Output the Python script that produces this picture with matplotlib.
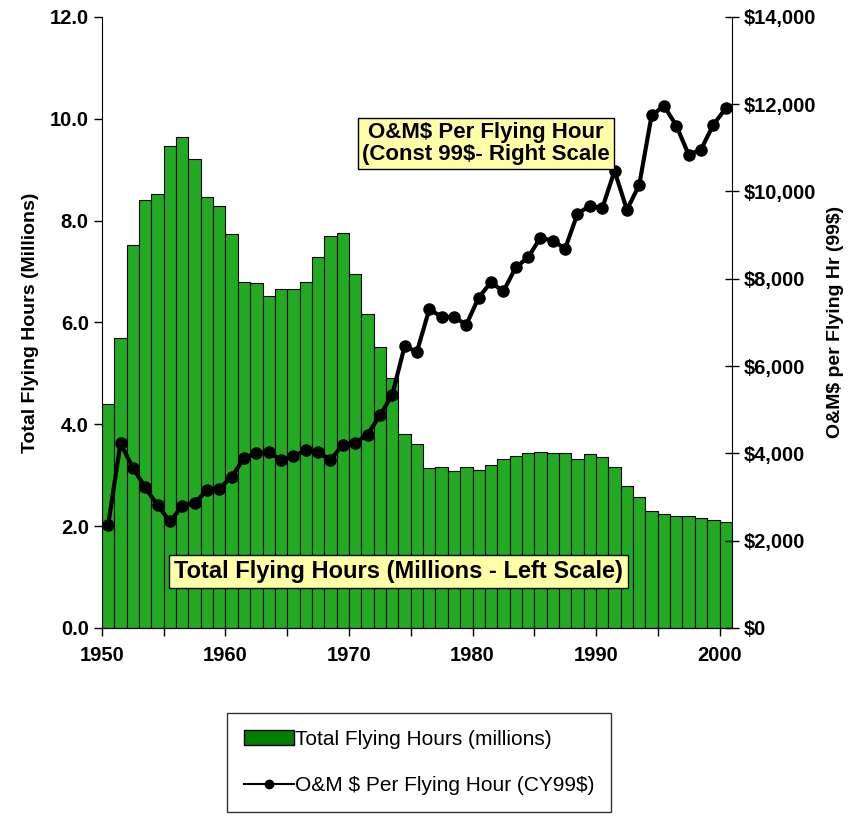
import numpy as np
import matplotlib
matplotlib.use("Agg")
import matplotlib.pyplot as plt
from matplotlib.patches import Patch
from matplotlib.lines import Line2D

plt.rcParams['font.family'] = ['Liberation Sans', 'DejaVu Sans']
plt.rcParams['text.parse_math'] = False

# data
years = list(range(1950, 2001))
# total flying hours, millions (left scale)
hours = [4.40, 5.70, 7.52, 8.40, 8.52, 9.47, 9.64, 9.21, 8.46, 8.28,
         7.73, 6.80, 6.77, 6.51, 6.65, 6.65, 6.80, 7.29, 7.70, 7.76,
         6.95, 6.17, 5.51, 4.91, 3.80, 3.62, 3.15, 3.17, 3.08, 3.17,
         3.10, 3.20, 3.32, 3.38, 3.44, 3.46, 3.43, 3.43, 3.32, 3.41,
         3.36, 3.17, 2.79, 2.58, 2.30, 2.24, 2.19, 2.20, 2.16, 2.12,
         2.09]
# O&M $ per flying hour, CY99$ (right scale)
om_cost = [2360, 4230, 3670, 3220, 2810, 2440, 2790, 2860, 3160, 3190,
           3460, 3890, 4010, 4030, 3850, 3930, 4070, 4030, 3850, 4200,
           4240, 4430, 4870, 5340, 6450, 6330, 7300, 7130, 7120, 6950,
           7570, 7920, 7710, 8260, 8490, 8940, 8870, 8690, 9490, 9670,
           9610, 10470, 9580, 10150, 11740, 11960, 11510, 10840, 10960, 11530,
           11900]

left_ticks = [0, 2, 4, 6, 8, 10, 12]
right_ticks = [0, 2000, 4000, 6000, 8000, 10000, 12000, 14000]

bar_color = '#22AA22'

fig = plt.figure(figsize=(8.57, 8.16), dpi=100)
ax = fig.add_axes([0.119, 0.2304, 0.735, 0.749])

x = np.array(years) + 0.5
ax.bar(x, hours, width=1.0, color=bar_color, edgecolor='black', linewidth=0.8)
ax.set_xlim(1950, 2001)
ax.set_ylim(0, 12)
ax.set_yticks(left_ticks)
ax.set_yticklabels([f"{v:.1f}" for v in left_ticks])
ax.set_xticks(range(1950, 2001, 5))
ax.set_xticklabels([str(y) if y % 10 == 0 else '' for y in range(1950, 2001, 5)])
ax.spines['top'].set_visible(False)
ax.spines['right'].set_visible(False)
ax.tick_params(axis='both', direction='out', length=6, width=1, labelsize=14.5)
ax.tick_params(axis='x', pad=7)
for lab in ax.get_xticklabels() + ax.get_yticklabels():
    lab.set_fontweight('bold')
ax.set_ylabel('Total Flying Hours (Millions)', fontsize=14, fontweight='bold', labelpad=8)

ax2 = ax.twinx()
ax2.plot(x, om_cost, color='black', lw=3, marker='o', markersize=8)
ax2.set_ylim(0, 14000)
ax2.set_yticks(right_ticks)
ax2.set_yticklabels([f"${v:,}" for v in right_ticks])
ax2.spines['top'].set_visible(False)
ax2.spines['left'].set_visible(False)
ax2.tick_params(axis='y', direction='inout', length=10, width=1, labelsize=14.5)
for lab in ax2.get_yticklabels():
    lab.set_fontweight('bold')
ax2.set_ylabel('O&M$ per Flying Hr (99$)', fontsize=14, fontweight='bold', labelpad=8)

box = dict(boxstyle='square,pad=0.2', facecolor='#FFFFA8', edgecolor='black', linewidth=1)
ax2.text(1981.1, 11100, "O&M$ Per Flying Hour\n(Const 99$- Right Scale", fontsize=16,
         fontweight='bold', ha='center', va='center', bbox=box, linespacing=1.05)
ax2.text(1974.0, 1290, "Total Flying Hours (Millions - Left Scale)", fontsize=17,
         fontweight='bold', ha='center', va='center', bbox=box)

handles = [Patch(facecolor='#008000', edgecolor='black', linewidth=1),
           Line2D([0], [0], color='black', lw=1.5, marker='o', markersize=6)]
labels = ['Total Flying Hours (millions)', 'O&M $ Per Flying Hour (CY99$)']
leg = fig.legend(handles, labels, loc='upper center', bbox_to_anchor=(0.489, 0.126),
                 fontsize=15, frameon=True, fancybox=False, edgecolor='black',
                 handlelength=2.4, handletextpad=0.05, labelspacing=1.3, borderpad=0.8,
                 borderaxespad=0)
leg.get_frame().set_linewidth(1)

fig.savefig('out.png', dpi=100)
